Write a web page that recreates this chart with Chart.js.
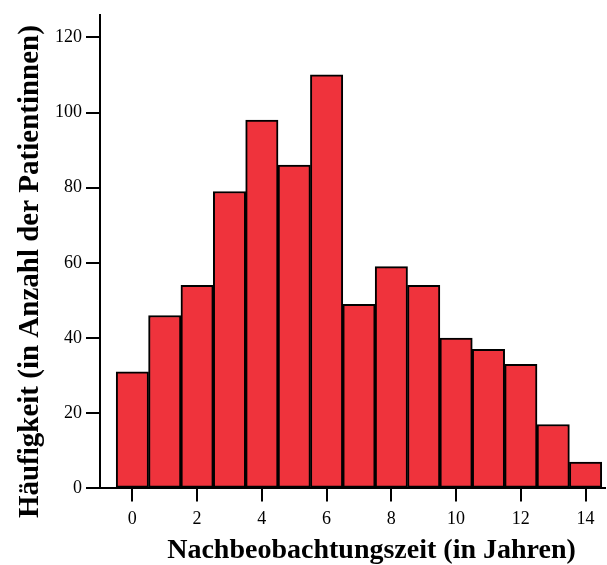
<!DOCTYPE html>
<html>
<head>
<meta charset="utf-8">
<script src="https://cdn.jsdelivr.net/npm/chart.js@4/dist/chart.umd.min.js"></script>
<style>
  html, body { margin: 0; padding: 0; background: #fff; }
  #wrap { width: 607px; height: 565px; }
</style>
</head>
<body>
<div id="wrap"><canvas id="chart"></canvas></div>
<script>
const years = [0, 1, 2, 3, 4, 5, 6, 7, 8, 9, 10, 11, 12, 13, 14];
const counts = [31, 46, 54, 79, 98, 86, 110, 49, 59, 54, 40, 37, 33, 17, 7];
const xTicks = [0, 2, 4, 6, 8, 10, 12, 14];
const yTicks = [0, 20, 40, 60, 80, 100, 120];
const xTitle = 'Nachbeobachtungszeit (in Jahren)';
const yTitle = 'Häufigkeit (in Anzahl der Patientinnen)';

const serif = "'Liberation Serif', 'Times New Roman', serif";

const axisBase = {
  offset: false,
  border: { display: true, color: '#000', width: 2 },
};
const gridBase = { display: true, offset: false, drawOnChartArea: false, drawTicks: true, color: '#000', lineWidth: 2 };

// axis titles sit a bit off-centre in the original, so draw them by hand
const axisTitles = {
  id: 'axisTitles',
  afterDraw(chart) {
    const { ctx, chartArea: a } = chart;
    ctx.save();
    ctx.fillStyle = '#000';
    ctx.textAlign = 'center';
    ctx.textBaseline = 'alphabetic';
    ctx.font = 'bold 28px ' + serif;
    ctx.fillText(xTitle, (a.left + a.right) / 2 + 19, chart.height - 7);
    ctx.font = 'bold 29px ' + serif;
    ctx.translate(38, (a.top + a.bottom) / 2 + 20);
    ctx.rotate(-Math.PI / 2);
    ctx.fillText(yTitle, 0, 0);
    ctx.restore();
  }
};

new Chart(document.getElementById('chart'), {
  type: 'bar',
  data: {
    datasets: [{
      data: years.map((y, i) => ({ x: y, y: counts[i] })),
      backgroundColor: '#EF333C',
      borderColor: '#000',
      borderWidth: 2,
      borderSkipped: false,
      barPercentage: 1,
      categoryPercentage: 1
    }]
  },
  plugins: [axisTitles],
  options: {
    responsive: true,
    maintainAspectRatio: false,
    animation: false,
    layout: { padding: { top: 9, right: 2, left: 51, bottom: 28 } },
    plugins: { legend: { display: false }, tooltip: { enabled: false } },
    scales: {
      x: {
        ...axisBase,
        type: 'linear',
        min: -1,
        max: 14.6,
        grid: { ...gridBase, tickLength: 13 },
        afterBuildTicks: s => { s.ticks = xTicks.map(v => ({ value: v })); },
        ticks: { color: '#000', font: { family: serif, size: 18 }, padding: 7, maxRotation: 0 }
      },
      y: {
        ...axisBase,
        min: 0,
        max: 126,
        grid: { ...gridBase, tickLength: 14 },
        afterBuildTicks: s => { s.ticks = yTicks.map(v => ({ value: v })); },
        ticks: { color: '#000', font: { family: serif, size: 18 }, padding: 4 }
      }
    }
  }
});
</script>
</body>
</html>
